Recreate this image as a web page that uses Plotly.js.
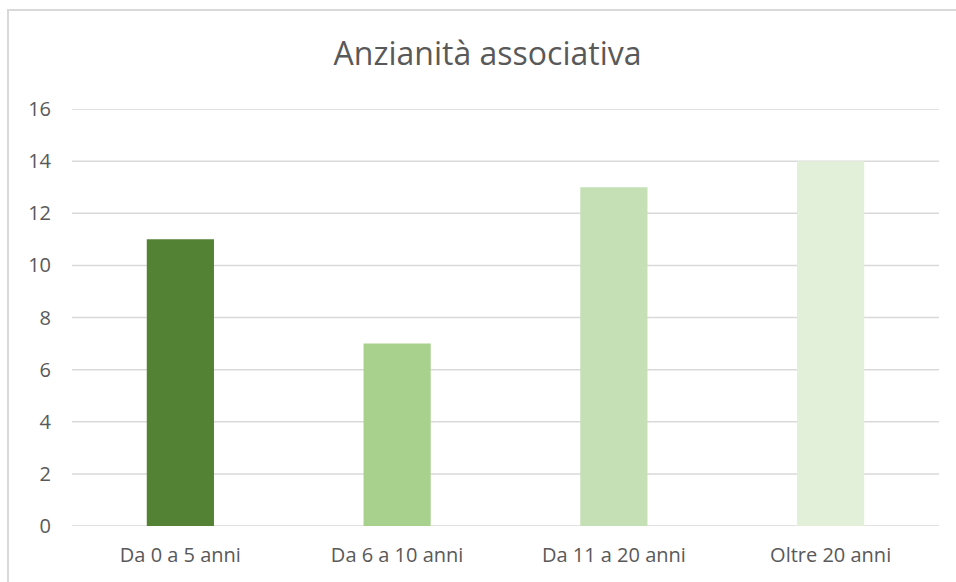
<!DOCTYPE html>
<html>
<head>
<meta charset="utf-8">
<script src="https://cdn.plot.ly/plotly-3.0.1.min.js"></script>
<style>
html,body{margin:0;padding:0;background:#fff;overflow:hidden;}
#wrap{position:relative;width:956px;height:582px;}
#chart{position:absolute;left:0;top:0;width:956px;height:582px;}
#frame{position:absolute;left:7px;top:9px;width:1000px;height:1000px;border:2px solid #d9d9d9;pointer-events:none;box-sizing:border-box;}
</style>
</head>
<body>
<div id="wrap"><div id="chart"></div><div id="frame"></div></div>
<script>
const categories = ["Da 0 a 5 anni", "Da 6 a 10 anni", "Da 11 a 20 anni", "Oltre 20 anni"];
const values = [11, 7, 13, 14];
const barColors = ["#548235", "#A9D18E", "#C5E0B4", "#E2F0D9"];
const yTicks = [0, 2, 4, 6, 8, 10, 12, 14, 16];

const trace = {
  type: "bar",
  x: categories,
  y: values,
  marker: {color: barColors, line: {width: 0}},
  hoverinfo: "x+y"
};

const gridShapes = yTicks.map(v => ({
  type: "line", xref: "paper", yref: "y",
  x0: 0, x1: 1, y0: v, y1: v,
  line: {color: "#d9d9d9", width: 1.5},
  layer: "below"
}));

const layout = {
  width: 956, height: 582,
  margin: {l: 72, r: 17, t: 109, b: 56},
  paper_bgcolor: "#ffffff",
  plot_bgcolor: "#ffffff",
  showlegend: false,
  bargap: 0.69,
  font: {family: "Open Sans, sans-serif", color: "#595959", size: 20},
  title: {
    text: "Anzianità associativa",
    font: {family: "Open Sans, sans-serif", size: 32, color: "#595959"},
    x: 0.51, xanchor: "center",
    y: 1 - 54/582, yanchor: "middle", yref: "container"
  },
  shapes: gridShapes,
  xaxis: {
    type: "category",
    showgrid: false, zeroline: false, showline: false,
    ticks: "", ticklabelstandoff: 15,
    tickfont: {size: 20, color: "#595959"}
  },
  yaxis: {
    range: [0, 16],
    tickvals: yTicks,
    ticktext: yTicks.map(String),
    showgrid: false,
    zeroline: false, showline: false,
    ticks: "", ticklabelstandoff: 20,
    tickfont: {size: 20, color: "#595959"}
  }
};

Plotly.newPlot("chart", [trace], layout, {displayModeBar: false, staticPlot: true});
</script>
</body>
</html>
